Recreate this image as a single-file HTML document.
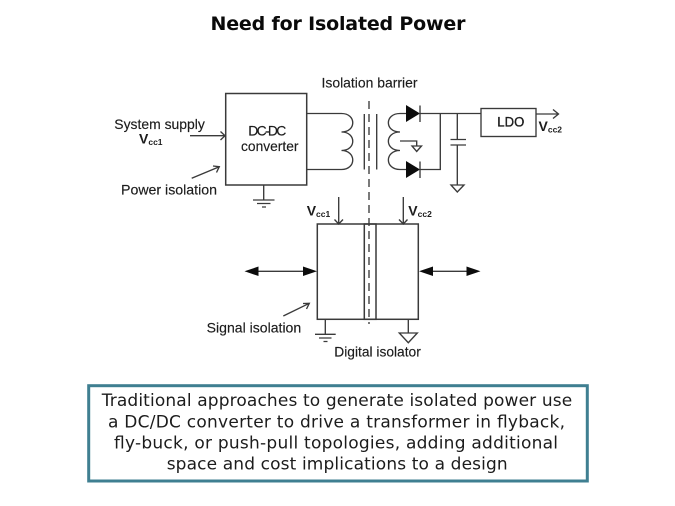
<!DOCTYPE html>
<html>
<head>
<meta charset="utf-8">
<style>
html,body{margin:0;padding:0;background:#fff}
svg{display:block}
.l{font-family:"Liberation Sans",sans-serif;font-size:13.9px;fill:#1c1c1c;stroke:#1c1c1c;stroke-width:.15}
.v{font-family:"Liberation Sans",sans-serif;font-size:14px;font-weight:bold;fill:#1c1c1c}
.s{font-size:8.5px;font-weight:bold}
.c{font-family:"DejaVu Sans",sans-serif;font-size:17px;fill:#1c1c1c}
.ln{fill:none;stroke:#3a3a3a;stroke-width:1.35}
.b{fill:none;stroke:#3a3a3a;stroke-width:1.5}
.f{fill:#0c0c0c;stroke:none}
</style>
</head>
<body>
<svg width="675" height="506" viewBox="0 0 675 506" xmlns="http://www.w3.org/2000/svg">
<rect width="675" height="506" fill="#fff"/>
<text x="210.5" y="30" font-family="'DejaVu Sans',sans-serif" font-size="19px" font-weight="bold" fill="#0a0a0a" textLength="255" lengthAdjust="spacing">Need for Isolated Power</text>

<!-- DC-DC -->
<rect class="b" x="225.7" y="93.5" width="81" height="91.5"/>
<text class="l" x="248.3" y="135.7" textLength="38" lengthAdjust="spacing">DC-DC</text>
<text class="l" x="241" y="151" textLength="57.5" lengthAdjust="spacingAndGlyphs">converter</text>
<text class="l" x="114.3" y="129" textLength="90.5" lengthAdjust="spacingAndGlyphs">System supply</text>
<text class="v" x="139" y="143.5">V<tspan class="s" dy="1.5">cc1</tspan></text>
<text class="l" x="121" y="194.3" textLength="96" lengthAdjust="spacingAndGlyphs">Power isolation</text>
<path class="ln" d="M190 135.7H225M220.5 131.5L225 135.7L220.5 140"/>
<path class="ln" d="M191.7 178.3L219.3 166.7M213 166L219.3 166.7L216.5 172.5"/>
<path class="ln" d="M263.7 185V200M253 200H274.5M257 203.5H270.5M262 207H266"/>

<!-- Primary coil -->
<path class="ln" d="M306.7 113.5H341.5C356.5 113.5 356.5 132 341.5 132C356.5 132 356.5 150.5 341.5 150.5C356.5 150.5 356.5 169.5 341.5 169.5H306.7"/>
<!-- Core -->
<path class="ln" d="M364.3 114V169.5M376.7 114V169.5"/>
<path d="M369 101V324" fill="none" stroke="#3a3a3a" stroke-width="1.35" stroke-dasharray="8 5"/>
<text class="l" x="321.5" y="87.7" textLength="96" lengthAdjust="spacingAndGlyphs">Isolation barrier</text>
<!-- Secondary coil -->
<path class="ln" d="M406 113.5H400C384.5 113.5 384.5 132 400 132C384.5 132 384.5 150.5 400 150.5C384.5 150.5 384.5 169.5 400 169.5H406"/>
<path class="ln" d="M400 141H416.7V146"/>
<path class="ln" d="M412 146H421.5L416.7 151.5Z"/>
<!-- Diodes -->
<path class="f" d="M406 105V122L420 113.5Z"/>
<path class="f" d="M406 161V178L420 169.5Z"/>
<path class="ln" d="M420 105.5V122M420 161.5V178"/>
<path class="ln" d="M420 113.5H481M420 169.5H440.3V113.5"/>
<!-- Cap -->
<path class="ln" d="M457.3 113.5V139.5M457.3 145V185M450.5 139.5H466M450.5 145H466"/>
<path class="ln" d="M451 185H464L457.3 192Z"/>
<!-- LDO -->
<rect class="ln" x="481" y="108.5" width="55" height="28"/>
<text class="l" x="497.3" y="126.7" style="font-size:13.5px;stroke-width:.35" textLength="27" lengthAdjust="spacingAndGlyphs">LDO</text>
<path class="ln" d="M536 114H558.5M553 109.5L558.5 114L553 118.5"/>
<text class="v" x="538.5" y="131">V<tspan class="s" dy="1.5">cc2</tspan></text>

<!-- Digital isolator -->
<rect class="b" x="317.3" y="224" width="101" height="95.3"/>
<rect class="b" x="364.3" y="224" width="11.7" height="95.3"/>
<path class="ln" d="M338.7 197V224M334.5 219.5L338.7 224L343 219.5"/>
<path class="ln" d="M403.3 197V224M399 219.5L403.3 224L407.5 219.5"/>
<text class="v" x="306.7" y="215.7">V<tspan class="s" dy="1.5">cc1</tspan></text>
<text class="v" x="408.3" y="215.7">V<tspan class="s" dy="1.5">cc2</tspan></text>
<path class="ln" d="M258 271.3H304"/>
<path class="f" d="M244.5 271.3L258.5 266.5V276Z"/>
<path class="f" d="M317 271.3L303 266.5V276Z"/>
<path class="ln" d="M432 271.3H467"/>
<path class="f" d="M419 271.3L433 266.5V276Z"/>
<path class="f" d="M480.5 271.3L466.5 266.5V276Z"/>
<path class="ln" d="M283.3 316L309.3 303.3M303 303.5L309.3 303.3L306.5 309"/>
<text class="l" x="206.7" y="332.3" textLength="94.5" lengthAdjust="spacingAndGlyphs">Signal isolation</text>
<path class="ln" d="M325.3 319.3V334.3M315 334.3H335.7M319 338H331.5M323.5 341.5H327.5"/>
<path class="ln" d="M408.3 319.3V333M399.3 333H417.3L408.3 342.7Z"/>
<text class="l" x="334.3" y="356.7" textLength="86.5" lengthAdjust="spacingAndGlyphs">Digital isolator</text>

<!-- Caption -->
<rect x="88.7" y="385.7" width="498.6" height="95.3" fill="#fff" stroke="#3f7f91" stroke-width="3"/>
<text class="c" x="101.7" y="406" textLength="470.5" lengthAdjust="spacing">Traditional approaches to generate isolated power use</text>
<text class="c" x="108" y="427.3" textLength="457" lengthAdjust="spacing">a DC/DC converter to drive a transformer in flyback,</text>
<text class="c" x="114" y="448.3" textLength="444" lengthAdjust="spacing">fly-buck, or push-pull topologies, adding additional</text>
<text class="c" x="166.7" y="469.3" textLength="341" lengthAdjust="spacing">space and cost implications to a design</text>
</svg>
</body>
</html>
